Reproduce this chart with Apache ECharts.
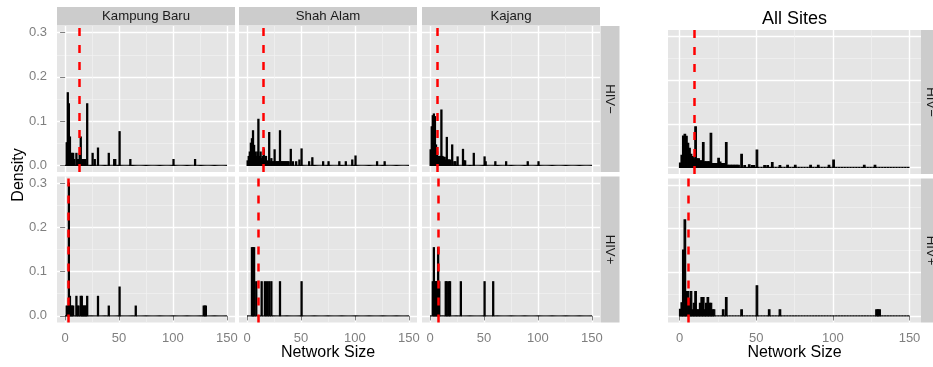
<!DOCTYPE html>
<html>
<head>
<meta charset="utf-8">
<script src="https://cdn.jsdelivr.net/npm/echarts@6/dist/echarts.min.js"></script>
<style>
  html, body { margin: 0; padding: 0; background: #fff; }
  #chart { width: 933px; height: 367px; }
</style>
</head>
<body>
<div id="chart"></div>
<script>
// histogram bins, binwidth 1: [left edge, density]; empty bins are left out
const kampungNeg = [[1,0.051],[2,0.164],[3,0.139],[4,0.064],[5,0.027],[6,0.027],[7,0.027],[8,0.013],[10,0.027],[11,0.013],[12,0.013],[13,0.026],[14,0.064],[15,0.013],[16,0.013],[17,0.013],[18,0.013],[20,0.139],[25,0.027],[27,0.013],[30,0.039],[40,0.027],[45,0.013],[46,0.013],[50,0.076],[60,0.013],[100,0.013],[120,0.013]];
const kampungPos = [[1,0.022],[2,0.022],[3,0.3],[4,0.044],[5,0.022],[6,0.022],[7,0.022],[10,0.044],[11,0.022],[12,0.022],[14,0.044],[15,0.044],[16,0.022],[17,0.022],[18,0.022],[19,0.022],[20,0.044],[30,0.044],[40,0.022],[50,0.065],[65,0.022],[128,0.022],[129,0.022],[130,0.022]];
const shahNeg = [[0,0.01],[1,0.02],[2,0.03],[3,0.05],[4,0.06],[5,0.078],[6,0.045],[7,0.03],[8,0.02],[9,0.03],[10,0.104],[11,0.02],[12,0.03],[13,0.015],[14,0.02],[15,0.037],[16,0.01],[17,0.02],[18,0.008],[19,0.01],[20,0.074],[21,0.008],[22,0.015],[23,0.008],[24,0.008],[25,0.035],[26,0.008],[27,0.008],[28,0.008],[29,0.008],[30,0.078],[31,0.008],[32,0.008],[33,0.008],[34,0.008],[35,0.008],[36,0.008],[37,0.008],[38,0.008],[40,0.036],[42,0.008],[45,0.008],[48,0.012],[50,0.037],[57,0.008],[60,0.017],[70,0.008],[75,0.008],[85,0.008],[91,0.008],[97,0.012],[100,0.021],[120,0.008],[127,0.008]];
const shahPos = [[4,0.154],[5,0.154],[6,0.154],[8,0.077],[13,0.077],[16,0.077],[18,0.077],[20,0.077],[22,0.077],[30,0.077],[50,0.077]];
const kajangNeg = [[0,0.035],[1,0.087],[2,0.112],[3,0.116],[4,0.11],[5,0.046],[6,0.03],[7,0.02],[8,0.02],[9,0.02],[10,0.125],[11,0.02],[12,0.018],[13,0.018],[14,0.012],[15,0.063],[16,0.012],[17,0.012],[18,0.012],[20,0.046],[22,0.008],[23,0.008],[25,0.019],[30,0.036],[31,0.01],[32,0.01],[40,0.027],[50,0.019],[51,0.008],[60,0.008],[70,0.008],[90,0.008],[100,0.008]];
const kajangPos = [[2,0.077],[3,0.154],[4,0.077],[5,0.077],[6,0.077],[7,0.154],[8,0.077],[14,0.077],[15,0.077],[17,0.077],[18,0.077],[28,0.077],[50,0.077],[58,0.077]];
const allNeg = [[0,0.01],[1,0.028],[2,0.072],[3,0.076],[4,0.071],[5,0.055],[6,0.044],[7,0.03],[8,0.025],[9,0.02],[10,0.093],[11,0.02],[12,0.02],[13,0.015],[14,0.015],[15,0.057],[16,0.013],[17,0.013],[18,0.013],[19,0.013],[20,0.078],[21,0.009],[22,0.009],[23,0.009],[24,0.009],[25,0.021],[26,0.012],[27,0.009],[28,0.009],[29,0.009],[30,0.057],[31,0.005],[32,0.005],[33,0.005],[34,0.005],[35,0.005],[36,0.005],[37,0.005],[38,0.005],[40,0.03],[42,0.004],[45,0.006],[47,0.004],[48,0.004],[50,0.04],[55,0.004],[57,0.004],[60,0.011],[65,0.004],[70,0.005],[75,0.005],[85,0.005],[90,0.005],[97,0.005],[100,0.017],[120,0.005],[127,0.005]];
const allPos = [[0,0.015],[1,0.03],[2,0.151],[3,0.22],[4,0.056],[5,0.056],[6,0.04],[7,0.056],[8,0.014],[9,0.029],[10,0.056],[11,0.014],[12,0.014],[13,0.029],[14,0.042],[15,0.042],[16,0.014],[17,0.029],[18,0.042],[19,0.029],[20,0.029],[21,0.014],[22,0.014],[28,0.014],[30,0.042],[40,0.014],[50,0.069],[58,0.014],[65,0.014],[128,0.014],[129,0.014],[130,0.014]];

const sites = ['Kampung Baru', 'Shah Alam', 'Kajang'];
const groups = ['HIV−', 'HIV+'];
const medianNeg = [13, 15, 7];
const medianPos = [3, 10.5, 8];
const medianAll = [9.5, 5.8];
const xTicks = [0, 50, 100, 150];
const yTicks = [0, 0.1, 0.2, 0.3];

const FONT = '"Liberation Sans", Arial, sans-serif';
const GREY = '#7f7f7f';

// all 150 bins, zeros included, so the outline draws the baseline
function fillBins(sparse) {
  const out = [];
  for (let i = 0; i < 150; i++) out.push([i, 0]);
  sparse.forEach(function (d) { out[d[0]][1] = d[1]; });
  return out;
}

const cols = [57, 239, 422];
const rowTops = [26, 176.5];
const panelW = 178, panelH = 146;
const allLeft = 668, allW = 253, allTops = [30, 178.5], allH = 144;

const siteBins = [[kampungNeg, kampungPos], [shahNeg, shahPos], [kajangNeg, kajangPos]];
const panels = [];
for (let r = 0; r < 2; r++) {
  for (let c = 0; c < 3; c++) {
    panels.push({
      left: cols[c], top: rowTops[r], w: panelW, h: panelH,
      bins: siteBins[c][r], median: r === 0 ? medianNeg[c] : medianPos[c],
      showX: r === 1, showY: c === 0
    });
  }
  panels.push({
    left: allLeft, top: allTops[r], w: allW, h: allH,
    bins: r === 0 ? allNeg : allPos, median: medianAll[r],
    showX: r === 1, showY: false
  });
}

const grid = [], xAxis = [], yAxis = [], series = [];
panels.forEach(function (p, i) {
  grid.push({
    left: p.left, top: p.top, width: p.w, height: p.h,
    show: true, backgroundColor: '#e5e5e5', borderWidth: 0
  });
  xAxis.push({
    gridIndex: i, type: 'value', min: -7.5, max: 157.5,
    minInterval: 50, maxInterval: 50, offset: 1,
    axisLine: { show: false },
    axisTick: { show: p.showX, customValues: xTicks, length: 4.5, lineStyle: { color: GREY } },
    axisLabel: { show: p.showX, customValues: xTicks, color: GREY, fontSize: 13, margin: 8, fontFamily: FONT },
    splitLine: { show: true, lineStyle: { color: '#fff', width: 1.4 } },
    minorTick: { show: false, splitNumber: 2 },
    minorSplitLine: { show: true, lineStyle: { color: '#f2f2f2', width: 0.7 } }
  });
  yAxis.push({
    gridIndex: i, type: 'value', min: -0.015, max: 0.315,
    minInterval: 0.1, maxInterval: 0.1, offset: 2,
    axisLine: { show: false },
    axisTick: { show: p.showY, customValues: yTicks, length: 5, lineStyle: { color: GREY } },
    axisLabel: {
      show: p.showY, customValues: yTicks, color: GREY, fontSize: 13, margin: 8, fontFamily: FONT,
      formatter: function (v) { return v.toFixed(1); }
    },
    splitLine: { show: true, lineStyle: { color: '#fff', width: 1.4 } },
    minorTick: { show: false, splitNumber: 2 },
    minorSplitLine: { show: true, lineStyle: { color: '#f2f2f2', width: 0.7 } }
  });
  series.push({
    type: 'custom', xAxisIndex: i, yAxisIndex: i,
    data: fillBins(p.bins),
    encode: { x: 0, y: 1 },
    renderItem: function (params, api) {
      const x = api.value(0), y = api.value(1);
      const p0 = api.coord([x, 0]);
      const p1 = api.coord([x + 1, y]);
      return {
        type: 'rect',
        shape: { x: p0[0], y: p1[1], width: p1[0] - p0[0], height: p0[1] - p1[1] },
        style: { fill: '#000', stroke: '#000', lineWidth: 1.2 }
      };
    },
    markLine: {
      silent: true, symbol: ['none', 'none'], label: { show: false }, animation: false,
      lineStyle: { color: '#ff0000', type: [8, 9], width: 2.5 },
      data: [{ xAxis: p.median }]
    }
  });
});

const graphic = [];
sites.forEach(function (s, c) {
  graphic.push({ type: 'rect', shape: { x: cols[c], y: 7, width: panelW, height: 18.5 }, style: { fill: '#cccccc' } });
  graphic.push({ type: 'text', x: cols[c] + panelW / 2, y: 16.5,
    style: { text: s, fill: '#1a1a1a', font: '13.2px ' + FONT, align: 'center', verticalAlign: 'middle' } });
});
groups.forEach(function (g, r) {
  graphic.push({ type: 'rect', shape: { x: 600.5, y: rowTops[r], width: 19, height: panelH }, style: { fill: '#cccccc' } });
  graphic.push({ type: 'text', x: 610, y: rowTops[r] + panelH / 2, rotation: -Math.PI / 2,
    style: { text: g, fill: '#1a1a1a', font: '13.2px ' + FONT, align: 'center', verticalAlign: 'middle' } });
  graphic.push({ type: 'rect', shape: { x: 921, y: allTops[r], width: 19, height: allH }, style: { fill: '#cccccc' } });
  graphic.push({ type: 'text', x: 930.5, y: allTops[r] + allH / 2, rotation: -Math.PI / 2,
    style: { text: g, fill: '#1a1a1a', font: '13.2px ' + FONT, align: 'center', verticalAlign: 'middle' } });
});
graphic.push({ type: 'text', x: 794.5, y: 19,
  style: { text: 'All Sites', fill: '#000', font: '18px ' + FONT, align: 'center', verticalAlign: 'middle' } });
graphic.push({ type: 'text', x: 328, y: 353,
  style: { text: 'Network Size', fill: '#000', font: '16px ' + FONT, align: 'center', verticalAlign: 'middle' } });
graphic.push({ type: 'text', x: 794.5, y: 353,
  style: { text: 'Network Size', fill: '#000', font: '16px ' + FONT, align: 'center', verticalAlign: 'middle' } });
graphic.push({ type: 'text', x: 19, y: 175, rotation: Math.PI / 2,
  style: { text: 'Density', fill: '#000', font: '16px ' + FONT, align: 'center', verticalAlign: 'middle' } });

const chart = echarts.init(document.getElementById('chart'));
chart.setOption({
  animation: false,
  backgroundColor: '#fff',
  grid: grid,
  xAxis: xAxis,
  yAxis: yAxis,
  series: series,
  graphic: graphic
});
</script>
</body>
</html>
